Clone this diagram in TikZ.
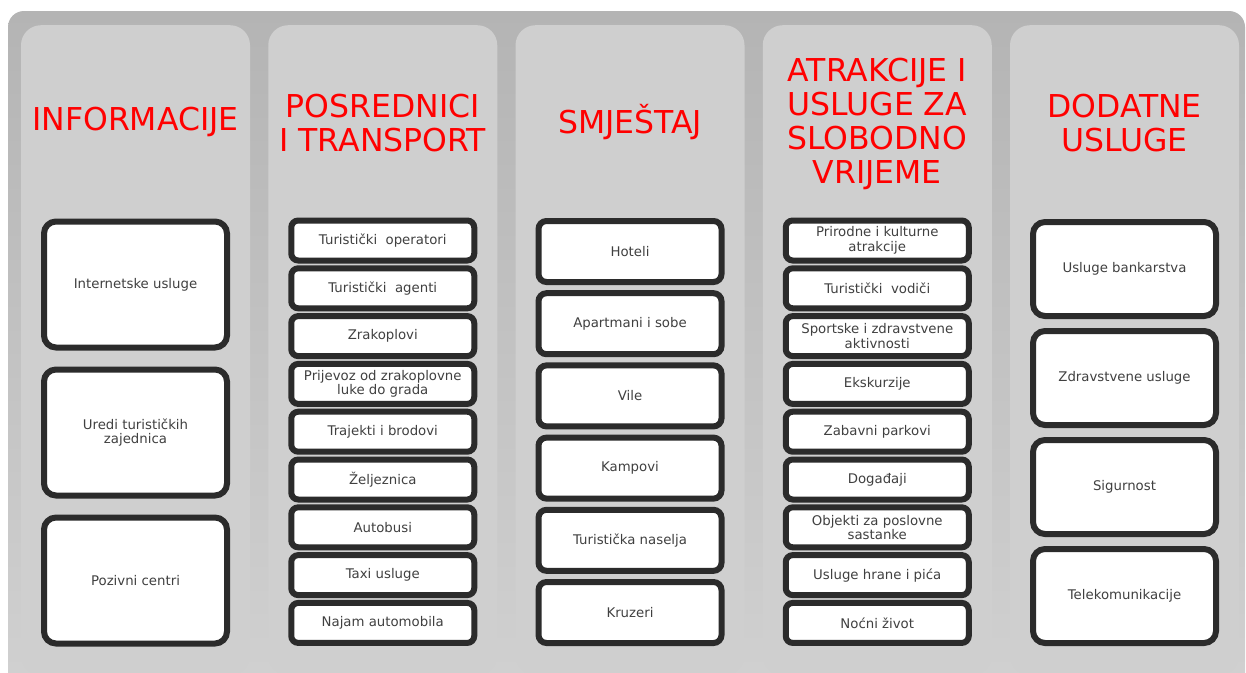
\documentclass[tikz,border=0pt]{standalone}
\usepackage{fontspec}
\setmainfont{DejaVu Sans}
\usepackage{tikz}
\usetikzlibrary{positioning}
\definecolor{frameTop}{HTML}{B4B4B4}
\definecolor{frameBottom}{HTML}{D2D2D2}
\definecolor{panelGray}{HTML}{CFCFCF}
\definecolor{boxLine}{HTML}{2B2B2B}
\definecolor{itemText}{HTML}{404040}
\definecolor{titleRed}{HTML}{FF0000}

\begin{document}
\begin{tikzpicture}[x=1pt, y=-1pt,
	panel/.style={fill=panelGray, rounded corners=20pt, minimum width=229pt, minimum height=650pt, anchor=north, inner sep=0pt},
	title/.style={text=titleRed, font=\fontsize{31.5}{34}\selectfont, align=center, inner sep=0pt},
	item/.style={draw=boxLine, line width=6pt, fill=white, rounded corners=#1, minimum width=183pt, inner sep=1pt, align=center, text=itemText, font=\fontsize{13.3}{14.5}\selectfont}]
	\def\P{247.25}
	\def\X{135.5}
	
	\useasboundingbox (0,0) rectangle (1246,672);
	\clip (0,0) rectangle (1246,672);
	\fill[white] (0,0) rectangle (1246,672);
	\shade[top color=frameTop, bottom color=frameBottom, rounded corners=16pt] (8,11) rectangle (1245,720);
	
	\foreach \name [count=\c from 0] in {info, trans, smj, atr, dod}
		\node[panel] (\name-panel) at ({\X+\c*\P},25) {};
	
	\node[title] (info-title)	at ({\X},122)		{INFORMACIJE};
	\node[title] (trans-title)	at ({\X+\P},123)	{POSREDNICI\\I TRANSPORT};
	\node[title] (smj-title)	at ({\X+2*\P},122)	{SMJEŠTAJ};
	\node[title] (atr-title)	at ({\X+3*\P},124)	{ATRAKCIJE I\\USLUGE ZA\\SLOBODNO\\VRIJEME};
	\node[title] (dod-title)	at ({\X+4*\P},123)	{DODATNE\\USLUGE};
	
	\foreach \txt [count=\i from 0] in {Internetske usluge, {Uredi turističkih\\zajednica}, Pozivni centri}
		\node[item=12pt, minimum height=126pt] (info-\i) at ({\X},{284.5+148*\i}) {\txt};
	
	\foreach \txt [count=\i from 0] in {Turistički\ \ operatori, Turistički\ \ agenti, Zrakoplovi, {Prijevoz od zrakoplovne\\luke do grada}, Trajekti i brodovi, Željeznica, Autobusi, Taxi usluge, Najam automobila}
		\node[item=7pt, minimum height=40pt] (trans-\i) at ({\X+\P},{240.5+47.8*\i}) {\txt};
	
	\foreach \txt [count=\i from 0] in {Hoteli, Apartmani i sobe, Vile, Kampovi, Turistička naselja, Kruzeri}
		\node[item=8pt, minimum height=61pt] (smj-\i) at ({\X+2*\P},{251.5+72.2*\i}) {\txt};
	
	\foreach \txt [count=\i from 0] in {{Prirodne i kulturne\\atrakcije}, Turistički\ \ vodiči, {Sportske i zdravstvene\\aktivnosti}, Ekskurzije, Zabavni parkovi, Događaji, {Objekti za poslovne\\sastanke}, Usluge hrane i pića, Noćni život}
		\node[item=7pt, minimum height=40pt] (atr-\i) at ({\X+3*\P},{240.5+47.8*\i}) {\txt};
	
	\foreach \txt [count=\i from 0] in {Usluge bankarstva, Zdravstvene usluge, Sigurnost, Telekomunikacije}
		\node[item=12pt, minimum height=94pt] (dod-\i) at ({\X+4*\P},{269+109*\i}) {\txt};
\end{tikzpicture}
\end{document}
